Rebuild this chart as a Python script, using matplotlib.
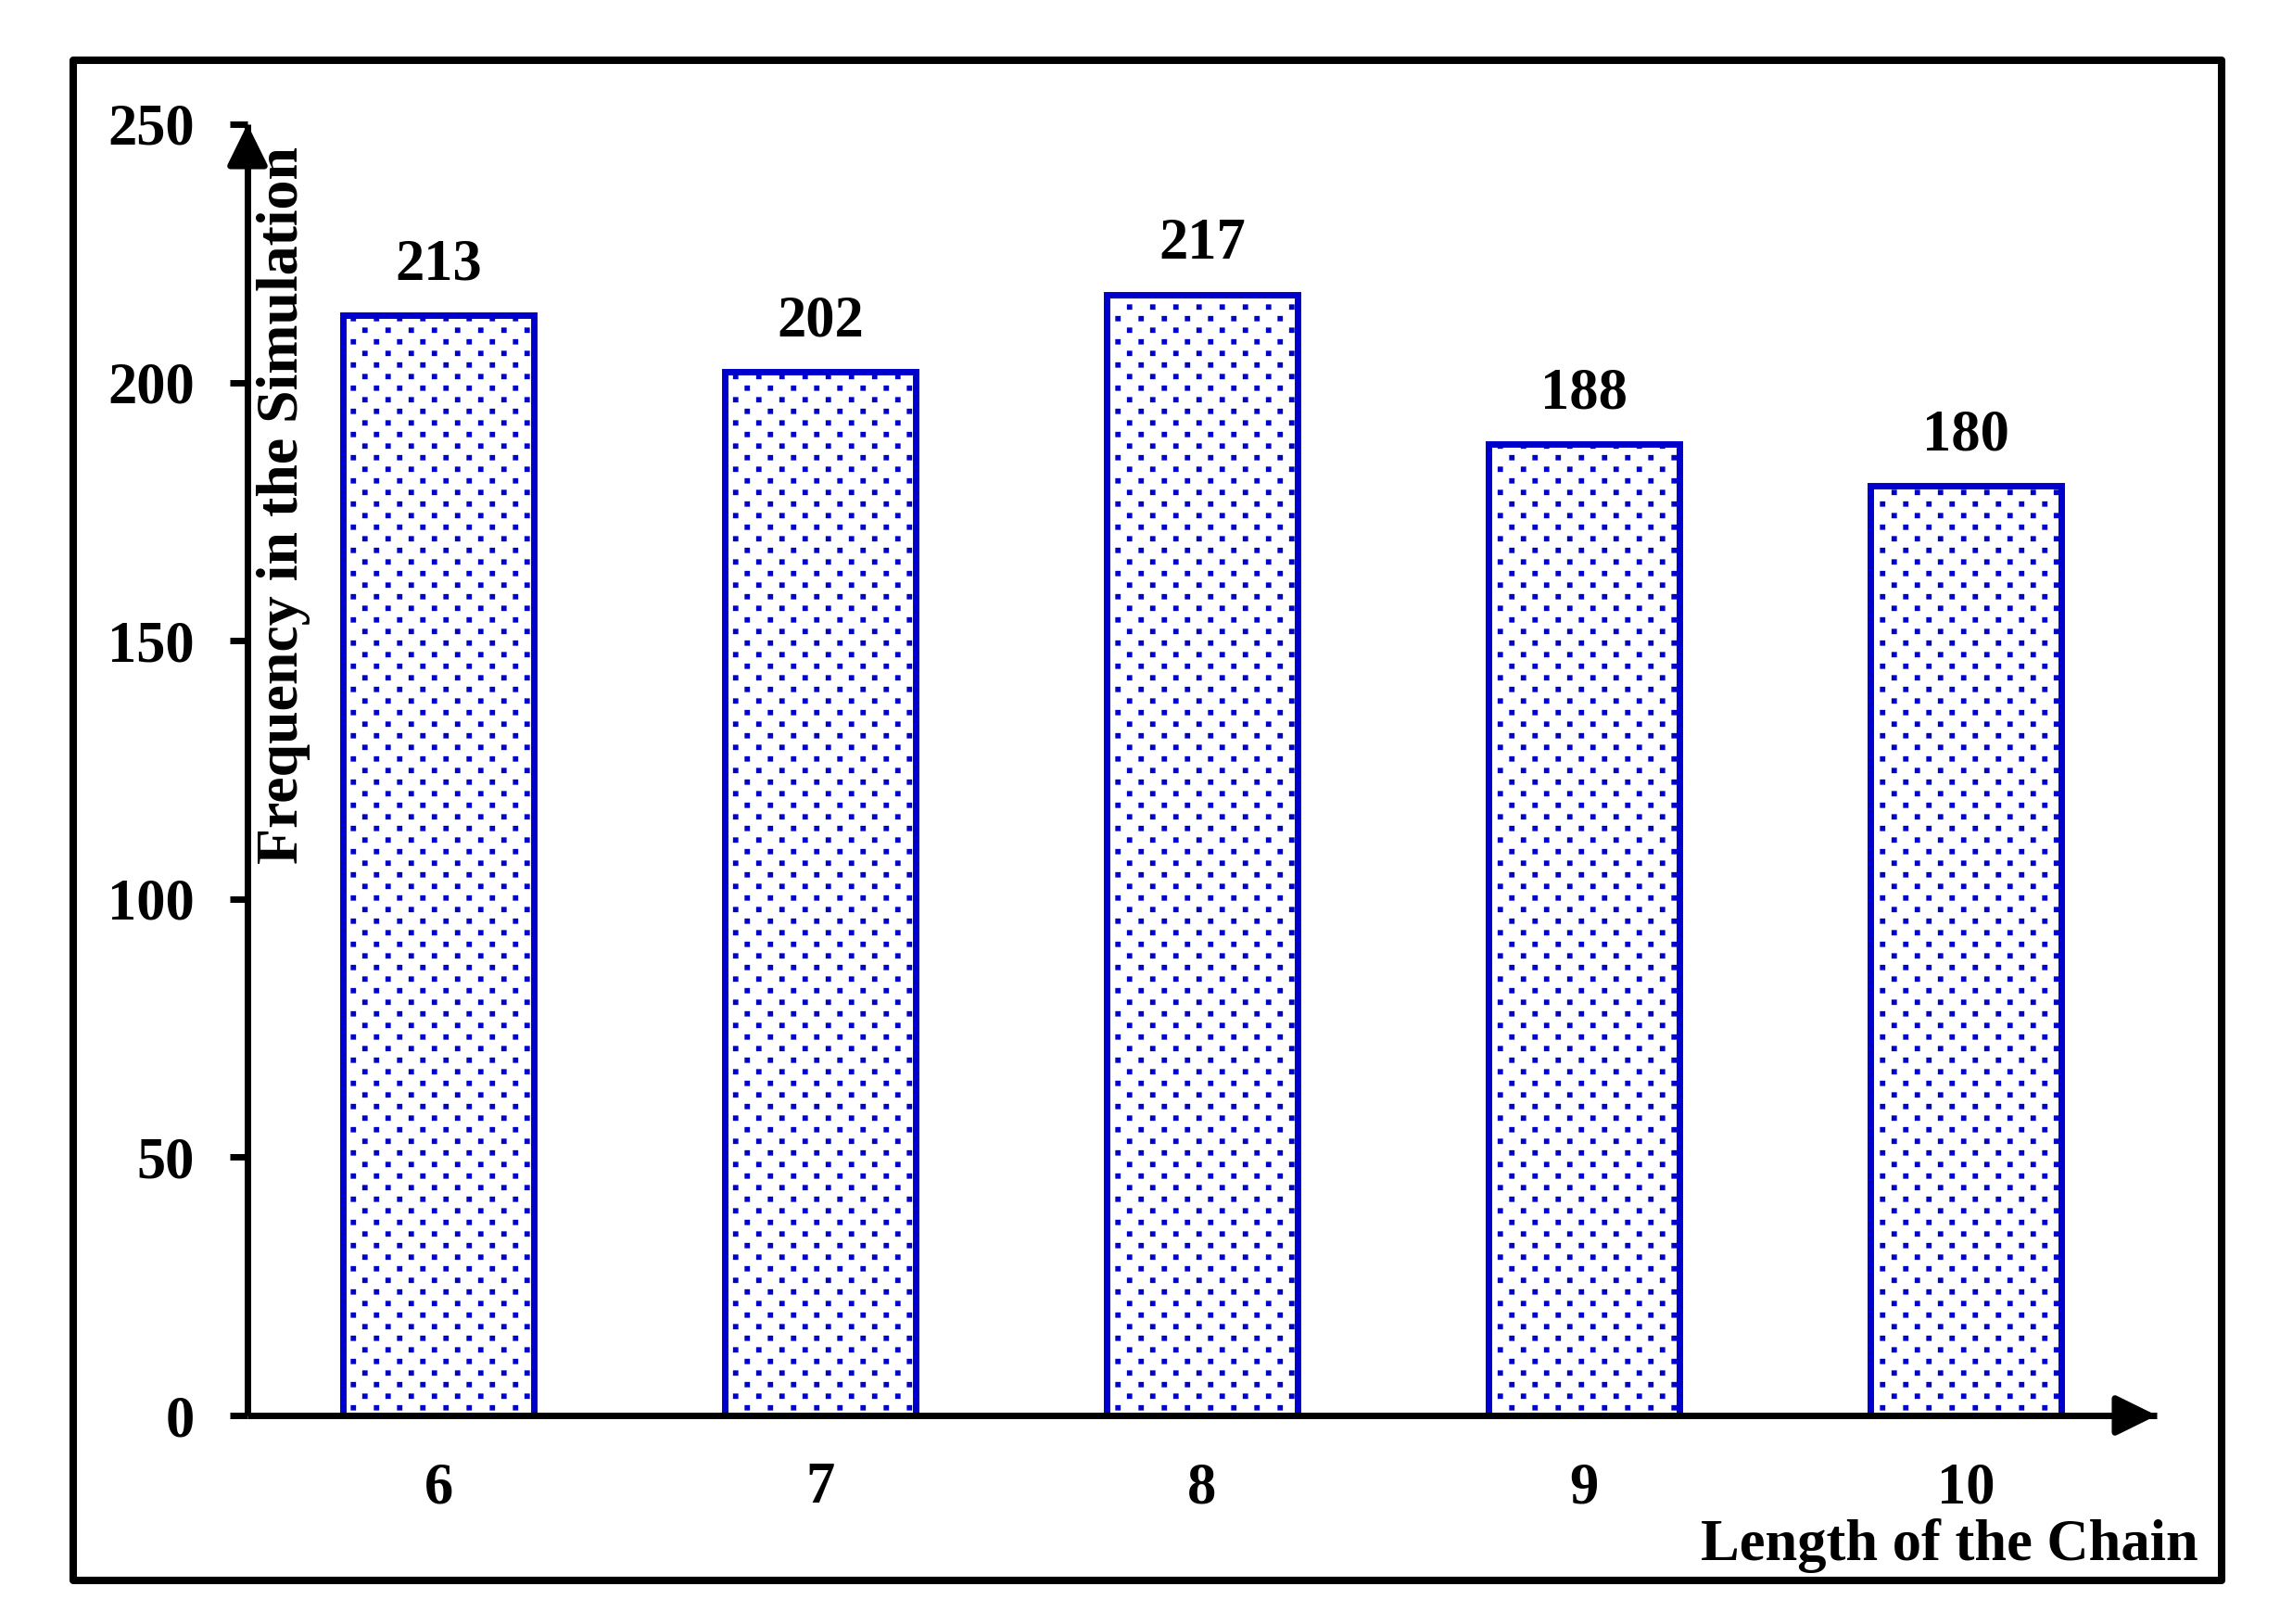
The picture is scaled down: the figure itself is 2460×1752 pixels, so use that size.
import numpy as np
import matplotlib
matplotlib.use('Agg')
import matplotlib.pyplot as plt
import matplotlib.hatch as mhatch
from matplotlib.path import Path
from matplotlib.patches import Rectangle

# data
chain_length = [6, 7, 8, 9, 10]
frequency = [213, 202, 217, 188, 180]
y_ticks = [0, 50, 100, 150, 200, 250]


# '.' hatch drawn as staggered square dots (4 per row, 8 rows per tile)
class SquareDots(mhatch.HatchPatternBase):
    cols, rows, half = 4, 8, 0.022

    def __init__(self, hatch, density):
        n = hatch.count('.')
        self.num_vertices = 5 * self.cols * self.rows if n else 0

    def set_vertices_and_codes(self, vertices, codes):
        sq = np.array([[-1, -1], [1, -1], [1, 1], [-1, 1], [-1, -1]]) * self.half
        sq_codes = [Path.MOVETO, Path.LINETO, Path.LINETO, Path.LINETO, Path.CLOSEPOLY]
        verts, cds = [], []
        for r in range(self.rows):
            y = (r + 0.5) / self.rows
            for c in range(self.cols):
                x = (c + 0.25 + 0.5 * (r % 2)) / self.cols
                verts.append(sq + [x, y])
                cds.extend(sq_codes)
        vertices[:] = np.concatenate(verts)
        codes[:] = cds


mhatch._hatch_types = [SquareDots if t is mhatch.SmallFilledCircles else t
                       for t in mhatch._hatch_types]

plt.rcParams['font.family'] = ['Liberation Serif', 'DejaVu Serif']
plt.rcParams['font.weight'] = 'bold'
plt.rcParams['font.size'] = 45
plt.rcParams['hatch.linewidth'] = 1.0

W, H = 2460, 1752
fig = plt.figure(figsize=(W / 100, H / 100), dpi=100)

# axes placed in pixel coordinates of the reference
left, right, bottom, top = 267, 2327, 1527, 134
ax = fig.add_axes([left / W, 1 - bottom / H, (right - left) / W, (bottom - top) / H])

blue = '#0000CD'
ax.bar(chain_length, frequency, width=0.5, facecolor='white', edgecolor=blue,
       linewidth=5, hatch='.', zorder=1)

for x, v in zip(chain_length, frequency):
    ax.annotate(str(v), (x, v), xytext=(0, 28), textcoords='offset points',
                ha='center', va='baseline', fontweight='bold')

ax.set_xlim(5.5, 10.5)
ax.set_ylim(0, 250)
ax.set_xticks(chain_length)
ax.set_yticks(y_ticks)

for s in ['top', 'right']:
    ax.spines[s].set_visible(False)
for s in ['left', 'bottom']:
    ax.spines[s].set_linewidth(5)
    ax.spines[s].set_capstyle('butt')

ax.tick_params(axis='y', direction='out', length=14, width=5, pad=27)
ax.tick_params(axis='x', length=0, pad=36)

# arrow heads on the axes
arrow = dict(arrowstyle='-|>,head_length=0.67,head_width=0.33',
             color='black', lw=5, mutation_scale=40, shrinkA=0, shrinkB=0)
ax.annotate('', xy=(0, 1), xytext=(0, 0.97), xycoords='axes fraction',
            arrowprops=arrow)
ax.annotate('', xy=(1, 0), xytext=(0.98, 0), xycoords='axes fraction',
            arrowprops=arrow)

# axis titles
fig.text(306 / W, 1 - 158 / H, 'Frequency in the Simulation', rotation=90,
         ha='center', va='top', fontweight='bold', fontsize=46)
fig.text(2372 / W, 1 - 1683 / H, 'Length of the Chain',
         ha='right', va='baseline', fontweight='bold')

# outer frame
fig.patches.append(Rectangle((79 / W, 1 - 1705 / H), (2397 - 79) / W, (1705 - 65) / H,
                             transform=fig.transFigure, fill=False,
                             edgecolor='black', linewidth=5.8, joinstyle='round'))

plt.savefig('out.png', dpi=100)
